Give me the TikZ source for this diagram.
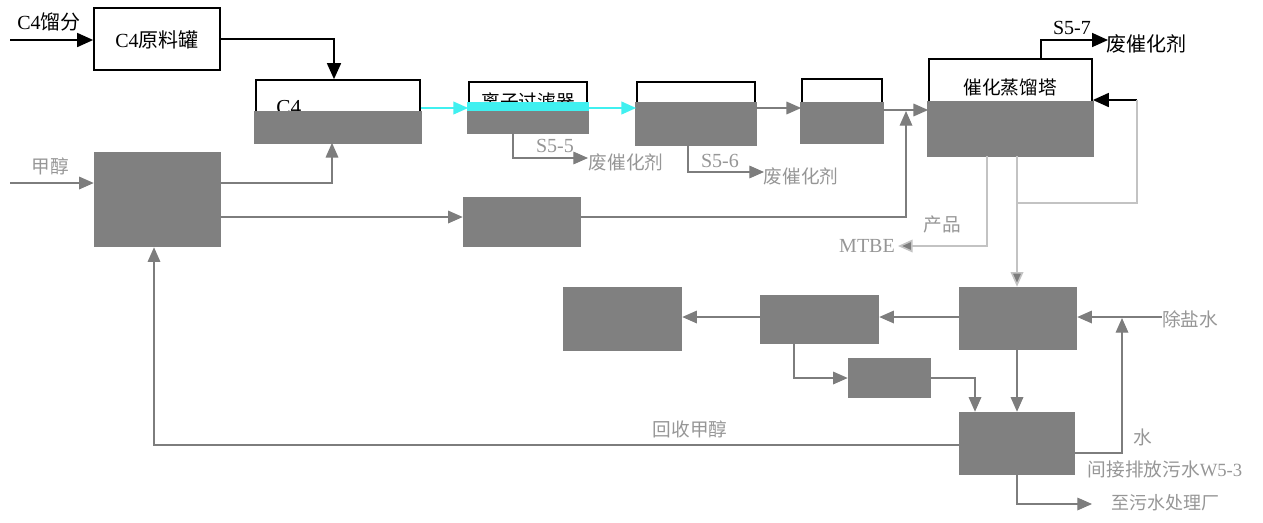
\documentclass[tikz,border=0pt]{standalone}
\usepackage{fontspec}
\setmainfont{Liberation Serif}
\newfontfamily\cjk{Noto Sans CJK SC}
\usetikzlibrary{arrows.meta}
\newcommand\zh[1]{{\cjk #1}}
\newcommand\mkbox[6]{\node[#2, minimum width={(#5-#3)*0.75pt}, minimum height={(#6-#4)*0.75pt}] (#1) at ({(#3+#5)/2},{(#4+#6)/2}) {};}
\definecolor{boxg}{RGB}{128,128,128}
\definecolor{lineg}{RGB}{125,125,125}
\definecolor{lightl}{RGB}{195,195,195}
\definecolor{txtg}{RGB}{150,150,150}
\definecolor{cyanb}{RGB}{64,240,240}
\begin{document}
\begin{tikzpicture}[x=0.75pt,y=-0.75pt,
  font=\fontsize{14}{16}\selectfont,
  gbox/.style={fill=boxg, draw=none, inner sep=0pt},
  wbox/.style={draw=black, line width=1.3pt, fill=white, inner sep=0pt},
  garr/.style={draw=lineg, line width=0.9pt, -{Triangle[length=11pt,width=9.5pt]}},
  larr/.style={draw=lightl, line width=1.2pt, -{Triangle[length=11pt,width=9.5pt,fill=lineg]}},
  gline/.style={draw=lightl, line width=1.2pt},
  barr/.style={draw=black, line width=1.3pt, -{Triangle[length=12pt,width=10.5pt]}},
  carr/.style={draw=cyanb, line width=1.2pt, -{Triangle[length=11pt,width=9.5pt]}},
  ltxt/.style={text=txtg, inner sep=0pt},
  btxt/.style={text=black, inner sep=0pt},
]
\useasboundingbox (0,0) rectangle (1263,522);

% ---------- boxes ----------
\mkbox{tank}{wbox}{94}{8}{220}{70}
\node[btxt, font=\fontsize{15}{17}\selectfont] (tanklbl) at (157,40) {C4\zh{原料罐}};

\mkbox{react}{wbox}{256}{80}{420}{142}
\node[btxt, font=\fontsize{16}{18}\selectfont, anchor=north west] (reactlbl) at (276,100) {C4};
\fill[boxg] ([xshift=-0.8pt]react.west |- 0,111) rectangle ([xshift=0.8pt,yshift=-0.8pt]react.south east);

\mkbox{filt}{wbox}{469}{82}{587}{132}
\node[btxt, anchor=north] (filtlbl) at (528,92) {\zh{离子过滤器}};
\fill[boxg] ([xshift=-0.8pt]filt.west |- 0,111) rectangle ([xshift=0.8pt,yshift=-0.8pt]filt.south east);
\fill[cyanb] ([xshift=-0.8pt]filt.west |- 0,102) rectangle ([xshift=0.8pt]filt.east |- 0,111);

\mkbox{boxc}{wbox}{637}{82}{755}{144}
\fill[boxg] ([xshift=-0.8pt]boxc.west |- 0,102) rectangle ([xshift=0.8pt,yshift=-0.8pt]boxc.south east);

\mkbox{boxd}{wbox}{802}{79}{882}{142}
\fill[boxg] ([xshift=-0.8pt]boxd.west |- 0,102) rectangle ([xshift=0.8pt,yshift=-0.8pt]boxd.south east);

\mkbox{tower}{wbox}{929}{59}{1092}{155}
\node[btxt] (towerlbl) at (1010,87) {\zh{催化蒸馏塔}};
\fill[boxg] ([xshift=-0.8pt]tower.west |- 0,101) rectangle ([xshift=0.8pt,yshift=-0.8pt]tower.south east);

\mkbox{mix}{gbox}{94}{152}{221}{247}
\mkbox{boxe}{gbox}{463}{197}{581}{247}
\mkbox{boxW}{gbox}{959}{287}{1077}{350}
\mkbox{boxM}{gbox}{760}{295}{879}{344}
\mkbox{boxL}{gbox}{563}{287}{682}{351}
\mkbox{boxS}{gbox}{848}{358}{931}{398}
\mkbox{boxB}{gbox}{959}{412}{1075}{475}

% ---------- texts ----------
\node[btxt, font=\fontsize{15}{17}\selectfont] (c4lbl) at (49,22) {C4\zh{馏分}};
\node[btxt, font=\fontsize{15}{17}\selectfont] (s57) at (1072,28) {S5-7};
\node[btxt, font=\fontsize{15}{17}\selectfont] (w57) at (1146,44) {\zh{废催化剂}};
\node[ltxt, font=\fontsize{15}{17}\selectfont] (s55) at (555,146) {S5-5};
\node[ltxt] (w55) at (626,162) {\zh{废催化剂}};
\node[ltxt, font=\fontsize{15}{17}\selectfont] (s56) at (720,161) {S5-6};
\node[ltxt] (w56) at (801,176) {\zh{废催化剂}};
\node[ltxt] (meoh) at (50,166) {\zh{甲醇}};
\node[ltxt] (prod) at (942,224) {\zh{产品}};
\node[ltxt, font=\fontsize{15}{17}\selectfont] (mtbe) at (867,246) {MTBE};
\node[ltxt] (desalt) at (1190,319) {\zh{除盐水}};
\node[ltxt] (recm) at (690,429) {\zh{回收甲醇}};
\node[ltxt] (water) at (1143,437) {\zh{水}};
\node[ltxt] (ww) at (1165,469) {\zh{间接排放污水}W5-3};
\node[ltxt, font=\fontsize{13.5}{16}\selectfont] (wwt) at (1165,503) {\zh{至污水处理厂}};

% ---------- free ends ----------
\coordinate (c4in) at (10,40);
\coordinate (mein) at (10,183);
\coordinate (s57e) at (1108,40);
\coordinate (a55) at (588,158);
\coordinate (a56) at (764,172);
\coordinate (j1) at (906,111);
\coordinate (br) at (1017,203);
\coordinate (fb) at (1137,100);
\coordinate (j2) at (1122,318);
\coordinate (a2) at (1092,504);
\coordinate (mt) at (898,246);

% ---------- connectors ----------
\draw[barr] (c4in) -- (tank.west |- c4in);
\draw[barr] (tank.east) -| (react.north -| 334,0);
\draw[barr] (tower.north -| 1041,0) |- (s57e);
\draw[barr] (fb) -- (tower.east |- fb);
\draw[gline] (br) -| (fb);

\draw[carr] (react.east |- 0,108) -- (filt.west |- 0,108);
\draw[carr] (filt.east |- 0,108) -- (boxc.west |- 0,108);
\draw[garr] (boxc.east |- 0,108) -- (boxd.west |- 0,108);
\draw[garr] (boxd.east |- 0,110) -- (tower.west |- 0,110);

\draw[garr] (mein) -- (mix.west |- mein);
\draw[garr] (mix.east |- 0,183) -| (react.south -| 332,0);
\draw[garr] (mix.east |- 0,217) -- (boxe.west |- 0,217);
\draw[garr] (boxe.east |- 0,217) -| (j1);

\draw[garr] (filt.south -| 513,0) |- (a55);
\draw[garr] (boxc.south -| 688,0) |- (a56);

\draw[larr] (tower.south -| 987,0) |- (mt);
\draw[larr] (tower.south -| 1017,0) -- (boxW.north -| 1017,0);

\draw[garr] (desalt.west |- 0,317) -- (boxW.east |- 0,317);
\draw[garr] (boxB.east |- 0,453) -| (j2);
\draw[garr] (boxW.west |- 0,317) -- (boxM.east |- 0,317);
\draw[garr] (boxM.west |- 0,317) -- (boxL.east |- 0,317);
\draw[garr] (boxM.south -| 794,0) |- (boxS.west);
\draw[garr] (boxS.east) -| (boxB.north -| 975,0);
\draw[garr] (boxW.south -| 1017,0) -- (boxB.north -| 1017,0);
\draw[garr] (boxB.west |- 0,445) -| (mix.south -| 154,0);
\draw[garr] (boxB.south -| 1017,0) |- (a2);
\end{tikzpicture}
\end{document}
